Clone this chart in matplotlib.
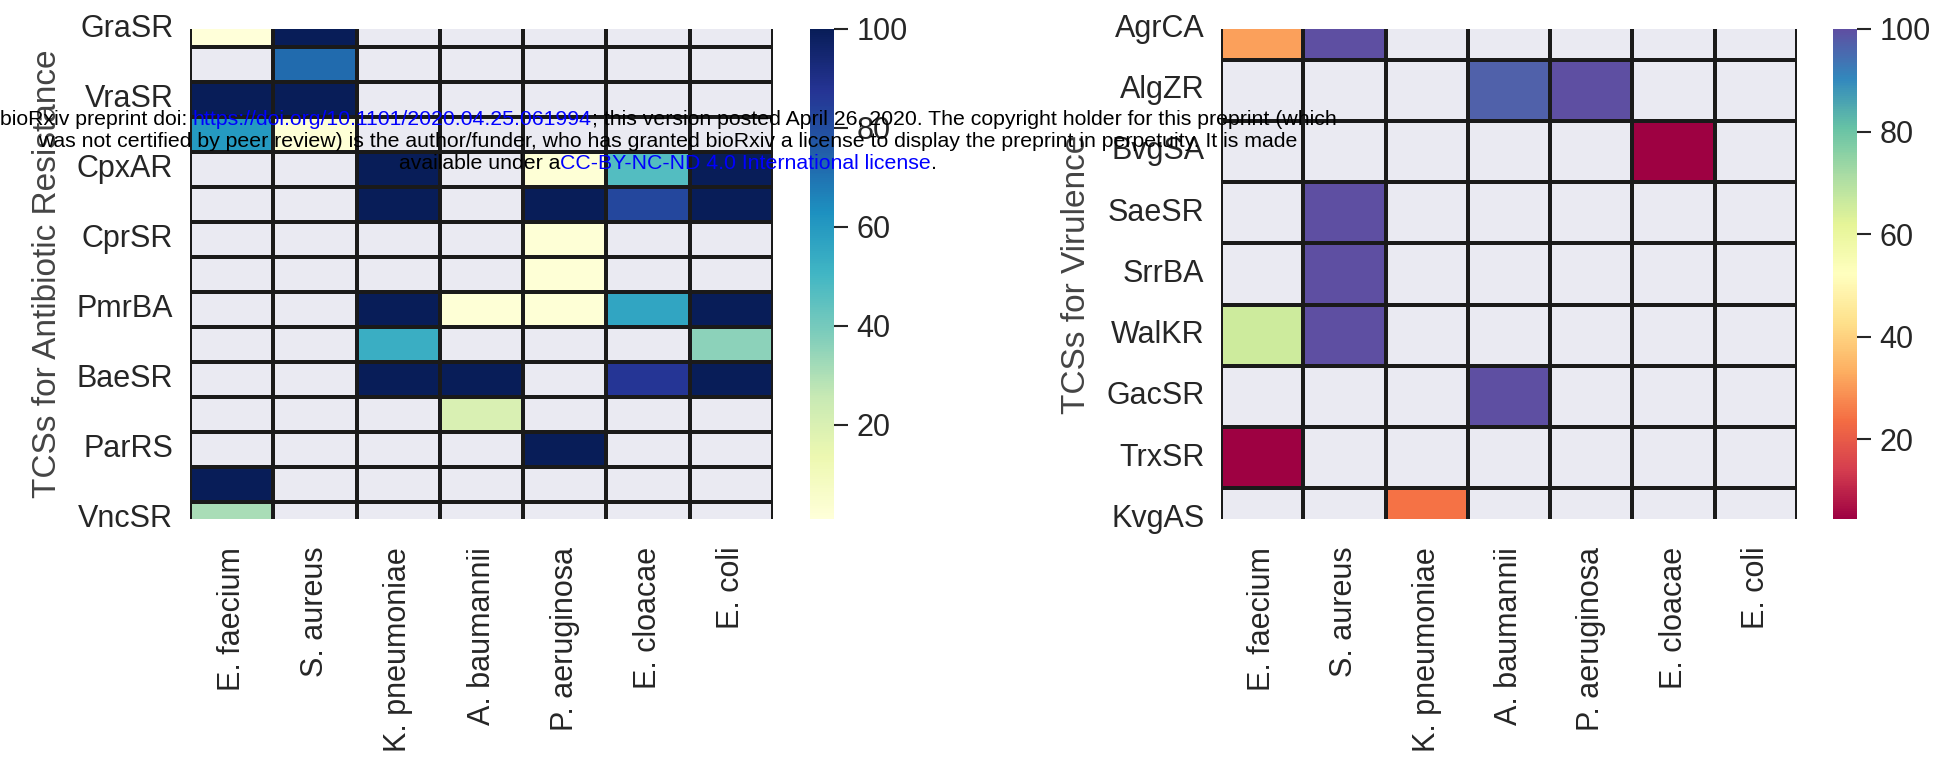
import numpy as np
import pandas as pd
import matplotlib
matplotlib.use("Agg")
import matplotlib.pyplot as plt
import seaborn as sns

N = np.nan

species = ["E. faecium", "S. aureus", "K. pneumoniae", "A. baumannii",
           "P. aeruginosa", "E. cloacae", "E. coli"]

# Antibiotic-resistance TCSs (every other row label is shown in the figure)
res_rows = ["GraSR", "", "VraSR", "", "CpxAR", "", "CprSR", "",
            "PmrBA", "", "BaeSR", "", "ParRS", "", "VncSR"]
res_values = [
    [1, 100, N, N, N, N, N],
    [N, 72, N, N, N, N, N],
    [100, 100, N, N, N, N, N],
    [60, 2, N, N, N, N, N],
    [N, N, 100, N, 2, 47, 100],
    [N, N, 100, N, 100, 82, 100],
    [N, N, N, N, 2, N, N],
    [N, N, N, N, 2, N, N],
    [N, N, 100, 2, 2, 56, 100],
    [N, N, 53, N, N, N, 36],
    [N, N, 100, 100, N, 87, 100],
    [N, N, N, 20, N, N, N],
    [N, N, N, N, 100, N, N],
    [100, N, N, N, N, N, N],
    [31, N, N, N, N, N, N],
]

# Virulence TCSs
vir_rows = ["AgrCA", "AlgZR", "BvgSA", "SaeSR", "SrrBA", "WalKR",
            "GacSR", "TrxSR", "KvgAS"]
vir_values = [
    [31, 100, N, N, N, N, N],
    [N, N, N, 97, 100, N, N],
    [N, N, N, N, N, 4.5, N],
    [N, 100, N, N, N, N, N],
    [N, 100, N, N, N, N, N],
    [66, 100, N, N, N, N, N],
    [N, N, N, 100, N, N, N],
    [4.5, N, N, N, N, N, N],
    [N, N, 24.5, N, N, N, N],
]

sns.set_theme(style="darkgrid", font_scale=2)
plt.rcParams["font.family"] = ["Liberation Sans", "DejaVu Sans"]
TXT = "#262626"

W, H = 1941, 778
fig = plt.figure(figsize=(W / 100, H / 100), dpi=100)

def px(x0, y0, x1, y1):
    return [x0 / W, 1 - y1 / H, (x1 - x0) / W, (y1 - y0) / H]

ax1 = fig.add_axes(px(190, 29, 773, 519))
cax1 = fig.add_axes(px(810, 29, 834, 519))
ax2 = fig.add_axes(px(1221, 29, 1797, 519))
cax2 = fig.add_axes(px(1833, 29, 1857, 519))

df1 = pd.DataFrame(np.array(res_values, dtype=float), columns=species)
df2 = pd.DataFrame(np.array(vir_values, dtype=float), columns=species)

for ax, cax, df, rows, cmap, ylabel in [
        (ax1, cax1, df1, res_rows, "YlGnBu", "TCSs for Antibiotic Resistance"),
        (ax2, cax2, df2, vir_rows, "Spectral", "TCSs for Virulence")]:
    sns.heatmap(df, ax=ax, cbar_ax=cax, cmap=cmap, linewidths=1.5,
                linecolor="#1a1a1a", xticklabels=species, yticklabels=rows)
    n = len(rows)
    ax.set_ylim(n - 0.5, 0.5)
    ax.grid(False)
    ax.set_ylabel(ylabel, fontsize=24, color="#444444", labelpad=10)
    ax.set_xlabel("")
    ax.tick_params(axis="both", length=0, labelsize=22, colors=TXT)
    ax.tick_params(axis="y", pad=12, rotation=0)
    ax.tick_params(axis="x", pad=20, rotation=90)
    cax.tick_params(length=10, width=1.5, color=TXT, labelsize=22,
                    labelcolor=TXT, pad=6)
    cax.set_yticks([20, 40, 60, 80, 100])

# bioRxiv notice overlay
fs = 15.3
renderer = fig.canvas.get_renderer()

def seg_width(s):
    t = fig.text(0, 0, "I" + s + "I", fontsize=fs)
    w = t.get_window_extent(renderer).width
    t.remove()
    t2 = fig.text(0, 0, "II", fontsize=fs)
    w2 = t2.get_window_extent(renderer).width
    t2.remove()
    return w - w2

BLUE = "#0000ff"
lines = [
    ([("bioRxiv preprint doi: ", "black"),
      ("https://doi.org/10.1101/2020.04.25.061994", BLUE),
      ("; this version posted April 26, 2020. The copyright holder for this preprint (which", "black")], 125),
    ([("was not certified by peer review) is the author/funder, who has granted bioRxiv a license to display the preprint in perpetuity. It is made", "black")], 147),
    ([("available under a", "black"),
      ("CC-BY-NC-ND 4.0 International license", BLUE),
      (".", "black")], 169),
]
xc = 668
for segs, yb in lines:
    widths = [seg_width(s) for s, _ in segs]
    x = xc - sum(widths) / 2
    for (s, c), w in zip(segs, widths):
        fig.text(x / W, 1 - yb / H, s, fontsize=fs, color=c,
                 ha="left", va="baseline")
        x += w

fig.savefig("out.png", dpi=100)
